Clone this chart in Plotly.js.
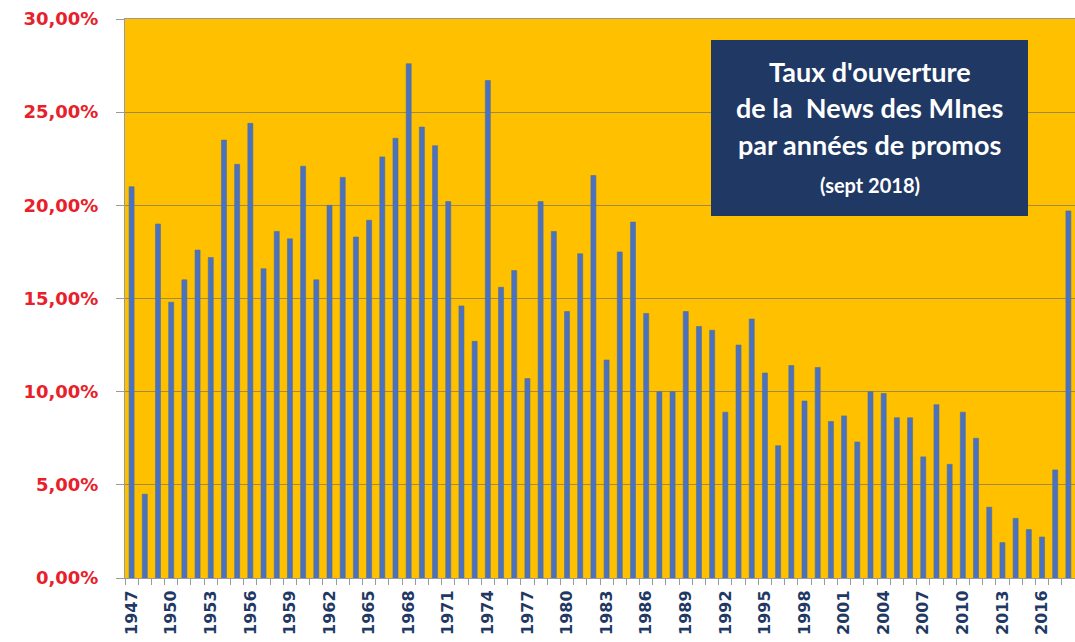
<!DOCTYPE html>
<html>
<head>
<meta charset="utf-8">
<script src="https://cdn.plot.ly/plotly-3.0.1.min.js"></script>
<style>html,body{margin:0;padding:0;background:#fff;}#chart{width:1075px;height:642px;}</style>
</head>
<body>
<div id="chart"></div>
<script>
// Years of promotion (categories)
const years = ["1947","1948","1949","1950","1951","1952","1953","1954","1955","1956","1957","1958","1959","1960","1961","1962","1963","1964","1965","1966","1967","1968","1969","1970","1971","1972","1973","1974","1975","1976","1977","1978","1979","1980","1981","1982","1983","1984","1985","1986","1987","1988","1989","1990","1991","1992","1993","1994","1995","1996","1997","1998","1999","2000","2001","2002","2003","2004","2005","2006","2007","2008","2009","2010","2011","2012","2013","2014","2015","2016","2017","2018"];
// Opening rate (%) per promo year
const openRate = [21.0,4.5,19.0,14.8,16.0,17.6,17.2,23.5,22.2,24.4,16.6,18.6,18.2,22.1,16.0,20.0,21.5,18.3,19.2,22.6,23.6,27.6,24.2,23.2,20.2,14.6,12.7,26.7,15.6,16.5,10.7,20.2,18.6,14.3,17.4,21.6,11.7,17.5,19.1,14.2,10.0,10.0,14.3,13.5,13.3,8.9,12.5,13.9,11.0,7.1,11.4,9.5,11.3,8.4,8.7,7.3,10.0,9.9,8.6,8.6,6.5,9.3,6.1,8.9,7.5,3.8,1.9,3.2,2.6,2.2,5.8,19.7];
// X tick labels: every third year shown
const xTickText = years.map((y, i) => (i % 3 === 0 ? y : ""));
// Y ticks
const yTickVals = [0,5,10,15,20,25,30];
const yTickText = ["0,00%","5,00%","10,00%","15,00%","20,00%","25,00%","30,00%"];
// Title box lines
const boxLines = ["Taux d'ouverture","de la  News des MInes","par années de promos","(sept 2018)"];

const L = 125, T = 19, W = 1075, H = 642, B = 64, R = 0;
const pw = W - L - R, ph = H - T - B;
const px = x => (x - L) / pw;
const py = y => (H - B - y) / ph;

const trace = {
  type: "bar",
  x: years,
  y: openRate,
  width: 0.38,
  marker: {color: "#4a72c0", line: {color: "#56708f", width: 0.6}},
  hoverinfo: "x+y"
};

const lineY = [72, 107, 144, 185];
const annotations = boxLines.map((t, i) => ({
  xref: "paper", yref: "paper",
  x: px(869.5), y: py(lineY[i]),
  xanchor: "center", yanchor: "middle",
  text: "<b>" + t + "</b>",
  showarrow: false,
  font: {family: "Lato, 'Open Sans', sans-serif", size: i === 3 ? 20 : 27, color: "#ffffff"}
}));

const layout = {
  width: W, height: H,
  margin: {l: L, r: R, t: T, b: B, pad: 0},
  paper_bgcolor: "#ffffff",
  plot_bgcolor: "#ffc000",
  showlegend: false,
  xaxis: {
    type: "category",
    tickmode: "array",
    tickvals: years,
    ticktext: xTickText,
    tickangle: -90,
    tickson: "boundaries",
    ticks: "outside",
    ticklen: 6,
    tickcolor: "#9a9a9a",
    showgrid: false,
    showline: true,
    linecolor: "#9a9a9a",
    linewidth: 1,
    mirror: true,
    ticklabelstandoff: 5,
    tickfont: {family: "'DejaVu Sans', sans-serif", size: 16, color: "#1f3864", weight: "bold"},
    range: [-0.5, 71.5],
    zeroline: false
  },
  yaxis: {
    range: [0, 30],
    tickmode: "array",
    tickvals: yTickVals,
    ticktext: yTickText,
    ticks: "outside",
    ticklen: 8,
    tickcolor: "#9a9a9a",
    showline: true,
    linecolor: "#9a9a9a",
    linewidth: 1,
    showgrid: true,
    gridcolor: "#a08a48",
    gridwidth: 1.2,
    zeroline: false,
    ticklabelstandoff: 14,
    tickfont: {family: "'DejaVu Sans', sans-serif", size: 18, color: "#e8202a", weight: "bold"}
  },
  shapes: [{
    type: "rect", xref: "paper", yref: "paper",
    x0: px(711), x1: px(1028), y0: py(216), y1: py(40),
    fillcolor: "#1f3864", line: {width: 0}, layer: "above"
  }],
  annotations: annotations
};

Plotly.newPlot("chart", [trace], layout, {displayModeBar: false, staticPlot: true});
</script>
</body>
</html>
